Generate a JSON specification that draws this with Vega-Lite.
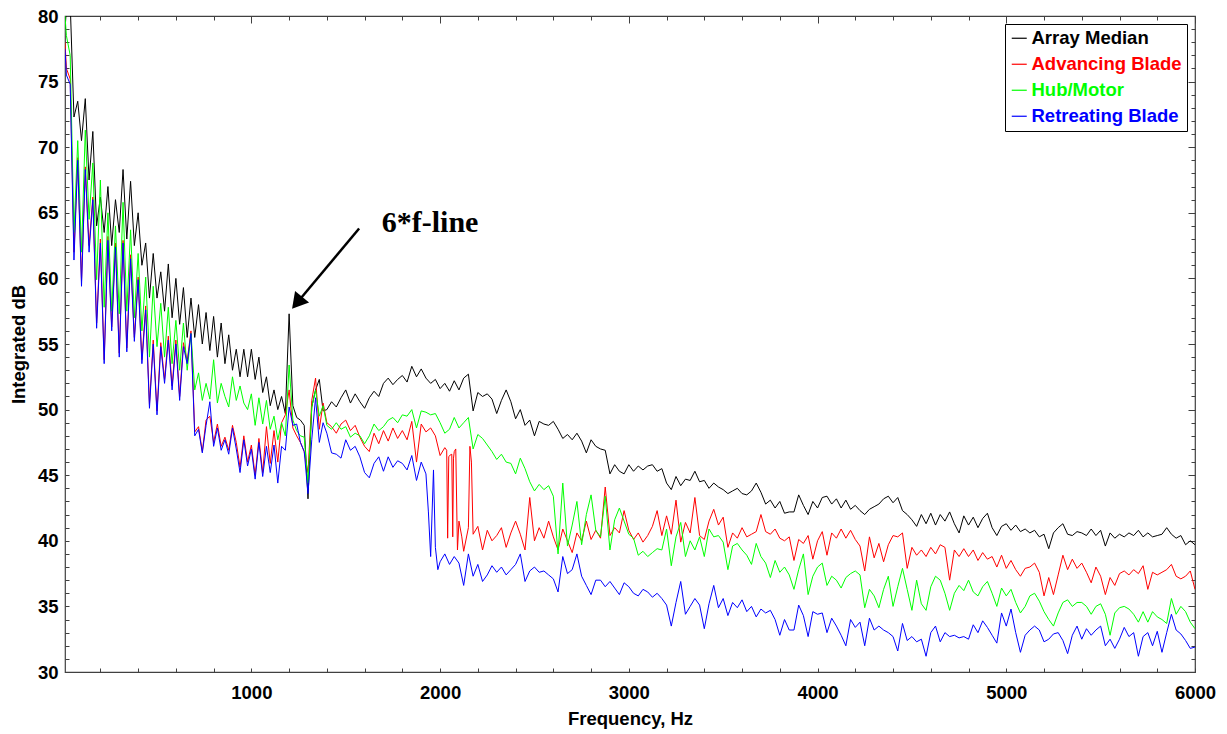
{
  "$schema": "https://vega.github.io/schema/vega-lite/v6.json",
  "width": 1130,
  "height": 656,
  "autosize": {"type": "none"},
  "padding": {"left": 65, "top": 16, "right": 32, "bottom": 62},
  "background": "#ffffff",
  "config": {
    "font": "Liberation Sans",
    "view": {"stroke": "#404040", "strokeWidth": 1.2},
    "axis": {
      "labelFont": "Liberation Sans", "labelFontWeight": "bold", "labelFontSize": 18.5, "labelColor": "#000000",
      "titleFont": "Liberation Sans", "titleFontWeight": "bold", "titleFontSize": 18.5, "titleColor": "#000000",
      "domain": false, "tickColor": "#404040", "tickWidth": 1,
      "gridColor": "#d6d6d6", "gridWidth": 1.5
    }
  },
  "data": {"values": [
    {"f":12.5,"m":79.0,"a":78.0,"h":80.0,"r":77.5},
    {"f":20,"m":80.5,"a":76.0,"h":78.5,"r":75.5},
    {"f":40,"m":81.0,"a":75.2,"h":77.0,"r":74.8},
    {"f":60,"m":72.3,"a":62.0,"h":63.5,"r":61.4},
    {"f":80,"m":73.5,"a":69.2,"h":70.5,"r":69.0},
    {"f":100,"m":70.5,"a":59.8,"h":62.0,"r":59.4},
    {"f":120,"m":73.7,"a":68.5,"h":71.3,"r":68.3},
    {"f":140,"m":67.5,"a":62.5,"h":64.5,"r":62.0},
    {"f":160,"m":71.2,"a":66.2,"h":68.8,"r":66.0},
    {"f":180,"m":64.0,"a":56.6,"h":59.9,"r":56.2},
    {"f":200,"m":66.2,"a":63.0,"h":67.5,"r":62.7},
    {"f":220,"m":63.5,"a":53.8,"h":57.8,"r":53.5},
    {"f":240,"m":67.0,"a":63.2,"h":65.0,"r":62.9},
    {"f":260,"m":62.5,"a":56.3,"h":57.5,"r":56.0},
    {"f":280,"m":66.0,"a":62.7,"h":64.0,"r":62.4},
    {"f":300,"m":63.5,"a":54.3,"h":57.3,"r":54.0},
    {"f":320,"m":68.3,"a":62.9,"h":65.8,"r":62.7},
    {"f":340,"m":63.0,"a":54.7,"h":57.5,"r":54.4},
    {"f":360,"m":67.4,"a":61.8,"h":63.7,"r":61.5},
    {"f":380,"m":62.5,"a":55.5,"h":57.0,"r":55.2},
    {"f":400,"m":65.0,"a":60.1,"h":61.9,"r":59.9},
    {"f":420,"m":61.0,"a":53.8,"h":56.0,"r":53.5},
    {"f":440,"m":62.7,"a":57.9,"h":60.1,"r":57.6},
    {"f":460,"m":58.5,"a":50.4,"h":54.0,"r":50.1},
    {"f":480,"m":61.9,"a":55.3,"h":59.4,"r":55.0},
    {"f":500,"m":58.5,"a":49.9,"h":54.8,"r":49.6},
    {"f":520,"m":60.5,"a":55.1,"h":58.1,"r":54.8},
    {"f":540,"m":57.5,"a":52.3,"h":54.0,"r":52.0},
    {"f":560,"m":61.1,"a":55.6,"h":57.8,"r":55.3},
    {"f":580,"m":57.0,"a":51.8,"h":53.5,"r":51.5},
    {"f":600,"m":60.0,"a":55.3,"h":56.8,"r":55.0},
    {"f":620,"m":56.5,"a":51.0,"h":53.0,"r":50.7},
    {"f":640,"m":59.3,"a":55.1,"h":56.6,"r":54.8},
    {"f":660,"m":55.5,"a":53.7,"h":53.0,"r":53.5},
    {"f":680,"m":58.5,"a":56.0,"h":55.8,"r":55.8},
    {"f":700,"m":55.5,"a":48.3,"h":51.5,"r":48.0},
    {"f":720,"m":58.0,"a":48.7,"h":52.8,"r":48.5},
    {"f":740,"m":55.0,"a":46.8,"h":50.7,"r":46.7},
    {"f":760,"m":57.4,"a":49.2,"h":52.0,"r":48.8},
    {"f":780,"m":54.5,"a":49.5,"h":50.8,"r":50.6},
    {"f":800,"m":57.1,"a":47.5,"h":53.8,"r":47.2},
    {"f":820,"m":54.0,"a":48.9,"h":50.5,"r":48.6},
    {"f":840,"m":56.6,"a":47.2,"h":52.0,"r":46.9},
    {"f":860,"m":53.5,"a":47.9,"h":51.0,"r":47.7},
    {"f":880,"m":55.7,"a":46.9,"h":50.2,"r":46.6},
    {"f":900,"m":53.0,"a":48.8,"h":52.5,"r":48.6},
    {"f":920,"m":54.6,"a":47.5,"h":50.7,"r":47.0},
    {"f":940,"m":52.5,"a":45.6,"h":51.8,"r":45.2},
    {"f":960,"m":54.6,"a":48.0,"h":50.5,"r":47.7},
    {"f":980,"m":52.5,"a":46.0,"h":50.0,"r":45.7},
    {"f":1000,"m":54.6,"a":47.3,"h":51.2,"r":47.0},
    {"f":1020,"m":52.3,"a":45.0,"h":48.8,"r":44.7},
    {"f":1040,"m":54.0,"a":47.8,"h":50.9,"r":47.5},
    {"f":1060,"m":51.3,"a":45.2,"h":48.9,"r":44.9},
    {"f":1080,"m":52.5,"a":48.7,"h":50.7,"r":47.2},
    {"f":1100,"m":50.3,"a":45.9,"h":48.5,"r":45.2},
    {"f":1120,"m":51.5,"a":48.4,"h":49.5,"r":47.3},
    {"f":1140,"m":50.0,"a":46.0,"h":47.7,"r":44.4},
    {"f":1160,"m":51.0,"a":49.0,"h":49.0,"r":47.2},
    {"f":1180,"m":49.7,"a":49.6,"h":48.0,"r":46.9},
    {"f":1200,"m":57.3,"a":51.5,"h":53.4,"r":50.2},
    {"f":1220,"m":50.3,"a":48.6,"h":49.2,"r":48.8},
    {"f":1240,"m":49.4,"a":48.0,"h":48.4,"r":48.9},
    {"f":1260,"m":49.2,"a":47.5,"h":48.0,"r":47.5},
    {"f":1280,"m":48.8,"a":46.8,"h":47.9,"r":46.8},
    {"f":1300,"m":43.2,"a":45.2,"h":44.4,"r":43.6},
    {"f":1320,"m":50.2,"a":50.7,"h":50.2,"r":47.7},
    {"f":1340,"m":51.5,"a":52.4,"h":51.5,"r":50.9},
    {"f":1360,"m":52.3,"a":48.5,"h":49.5,"r":47.5},
    {"f":1380,"m":49.9,"a":50.5,"h":50.3,"r":49.0},
    {"f":1400,"m":50.0,"a":49.0,"h":48.8,"r":48.2},
    {"f":1425,"m":50.6,"a":48.7,"h":48.5,"r":46.7},
    {"f":1450,"m":50.2,"a":48.2,"h":49.0,"r":46.6},
    {"f":1475,"m":50.9,"a":48.9,"h":48.5,"r":46.3},
    {"f":1500,"m":51.5,"a":49.2,"h":48.7,"r":47.7},
    {"f":1525,"m":50.5,"a":48.4,"h":47.9,"r":46.9},
    {"f":1550,"m":51.2,"a":48.8,"h":48.2,"r":47.2},
    {"f":1575,"m":50.6,"a":47.9,"h":48.0,"r":46.4},
    {"f":1600,"m":50.1,"a":47.2,"h":47.4,"r":45.2},
    {"f":1625,"m":50.9,"a":46.8,"h":48.0,"r":44.8},
    {"f":1650,"m":51.4,"a":48.2,"h":48.9,"r":45.9},
    {"f":1675,"m":51.0,"a":47.4,"h":48.4,"r":46.4},
    {"f":1700,"m":52.0,"a":48.4,"h":48.7,"r":45.3},
    {"f":1725,"m":52.4,"a":47.6,"h":49.2,"r":46.4},
    {"f":1750,"m":51.9,"a":48.6,"h":49.4,"r":45.6},
    {"f":1775,"m":52.3,"a":47.8,"h":49.0,"r":46.1},
    {"f":1800,"m":52.6,"a":48.4,"h":49.6,"r":45.9},
    {"f":1825,"m":52.1,"a":47.7,"h":49.5,"r":45.4},
    {"f":1850,"m":53.3,"a":49.1,"h":50.0,"r":46.5},
    {"f":1875,"m":52.5,"a":46.0,"h":48.6,"r":44.6},
    {"f":1900,"m":53.1,"a":48.9,"h":49.9,"r":46.0},
    {"f":1925,"m":52.4,"a":48.3,"h":49.8,"r":45.1},
    {"f":1938,"r":42.2},
    {"f":1950,"m":52.0,"a":48.6,"h":49.6,"r":38.8},
    {"f":1965,"r":45.4},
    {"f":1975,"m":52.3,"a":48.0,"h":49.7,"r":39.5},
    {"f":1988,"r":37.8},
    {"f":2000,"m":51.6,"a":46.5,"h":49.0,"r":38.4},
    {"f":2025,"m":52.0,"a":47.1,"h":48.2,"r":39.0},
    {"f":2035,"a":46.9},
    {"f":2040,"a":40.2},
    {"f":2046,"a":46.4},
    {"f":2050,"m":51.4,"a":46.5,"h":48.5,"r":38.2},
    {"f":2062,"a":46.6},
    {"f":2067,"a":40.3},
    {"f":2071,"a":46.3},
    {"f":2075,"m":52.2,"a":46.8,"h":49.4,"r":38.8},
    {"f":2083,"a":47.0},
    {"f":2092,"a":39.3},
    {"f":2100,"m":51.5,"a":41.5,"h":48.6,"r":38.3},
    {"f":2115,"a":40.3},
    {"f":2125,"m":52.4,"a":39.2,"h":49.0,"r":36.6},
    {"f":2150,"m":52.7,"a":41.0,"h":49.4,"r":39.0},
    {"f":2158,"a":47.2},
    {"f":2166,"a":46.0},
    {"f":2175,"m":49.9,"a":40.5,"h":47.0,"r":37.3},
    {"f":2200,"m":51.3,"a":41.1,"h":48.1,"r":38.2},
    {"f":2225,"m":51.0,"a":39.3,"h":47.8,"r":36.9},
    {"f":2250,"m":51.2,"a":40.8,"h":47.3,"r":37.4},
    {"f":2275,"m":50.8,"a":40.0,"h":46.8,"r":38.1},
    {"f":2300,"m":49.7,"a":40.4,"h":46.2,"r":37.6},
    {"f":2325,"m":50.7,"a":41.0,"h":46.6,"r":38.0},
    {"f":2350,"m":51.5,"a":39.5,"h":46.0,"r":37.4},
    {"f":2375,"m":50.6,"a":40.6,"h":45.9,"r":37.8},
    {"f":2400,"m":49.3,"a":41.5,"h":45.1,"r":38.2},
    {"f":2425,"m":50.0,"a":40.5,"h":46.3,"r":39.0},
    {"f":2450,"m":48.8,"a":39.3,"h":45.5,"r":36.9},
    {"f":2475,"m":49.2,"a":43.3,"h":44.5,"r":37.7},
    {"f":2500,"m":48.0,"a":40.0,"h":43.8,"r":38.0},
    {"f":2525,"m":49.1,"a":41.0,"h":44.3,"r":37.6},
    {"f":2550,"m":48.9,"a":40.2,"h":43.9,"r":37.7},
    {"f":2575,"m":48.8,"a":41.5,"h":44.2,"r":37.4},
    {"f":2600,"m":49.1,"a":40.3,"h":43.4,"r":37.1},
    {"f":2625,"m":48.5,"a":39.3,"h":39.0,"r":36.1},
    {"f":2650,"m":47.8,"a":40.9,"h":44.4,"r":38.8},
    {"f":2675,"m":48.1,"a":40.0,"h":39.6,"r":37.5},
    {"f":2700,"m":47.7,"a":39.1,"h":41.2,"r":37.8},
    {"f":2725,"m":48.2,"a":40.6,"h":43.0,"r":39.0},
    {"f":2750,"m":47.6,"a":40.0,"h":39.7,"r":37.3},
    {"f":2775,"m":46.7,"a":41.5,"h":42.0,"r":36.6},
    {"f":2800,"m":47.7,"a":40.1,"h":43.5,"r":35.9},
    {"f":2825,"m":47.2,"a":40.8,"h":40.8,"r":37.0},
    {"f":2850,"m":47.0,"a":40.2,"h":40.3,"r":37.0},
    {"f":2875,"m":46.9,"a":44.1,"h":43.4,"r":36.5},
    {"f":2900,"m":45.1,"a":40.4,"h":39.3,"r":36.9},
    {"f":2925,"m":45.8,"a":41.0,"h":41.6,"r":36.4},
    {"f":2950,"m":45.3,"a":40.6,"h":42.5,"r":35.9},
    {"f":2975,"m":45.1,"a":42.3,"h":41.5,"r":36.8},
    {"f":3000,"m":45.8,"a":40.8,"h":40.5,"r":36.5},
    {"f":3025,"m":45.3,"a":40.1,"h":40.2,"r":36.0},
    {"f":3050,"m":45.7,"a":40.6,"h":38.9,"r":35.8},
    {"f":3075,"m":45.4,"a":39.9,"h":39.2,"r":36.3},
    {"f":3100,"m":45.7,"a":40.4,"h":38.8,"r":36.1},
    {"f":3125,"m":45.8,"a":41.1,"h":39.1,"r":35.7},
    {"f":3150,"m":45.3,"a":42.3,"h":39.4,"r":36.0},
    {"f":3175,"m":45.5,"a":40.4,"h":39.3,"r":35.6},
    {"f":3200,"m":44.4,"a":41.9,"h":40.9,"r":35.1},
    {"f":3225,"m":43.9,"a":40.5,"h":38.1,"r":33.5},
    {"f":3250,"m":44.9,"a":43.1,"h":40.3,"r":35.3},
    {"f":3275,"m":44.2,"a":39.9,"h":41.4,"r":36.9},
    {"f":3300,"m":44.7,"a":41.4,"h":38.8,"r":34.4},
    {"f":3325,"m":44.6,"a":40.6,"h":40.0,"r":35.0},
    {"f":3350,"m":45.3,"a":43.3,"h":39.3,"r":35.6},
    {"f":3375,"m":44.5,"a":40.4,"h":40.3,"r":35.1},
    {"f":3400,"m":44.6,"a":40.1,"h":38.8,"r":33.3},
    {"f":3425,"m":44.0,"a":41.5,"h":40.9,"r":35.2},
    {"f":3450,"m":44.4,"a":42.4,"h":40.3,"r":36.6},
    {"f":3475,"m":44.1,"a":41.2,"h":40.4,"r":34.9},
    {"f":3500,"m":43.9,"a":41.8,"h":39.9,"r":35.6},
    {"f":3525,"m":43.6,"a":39.5,"h":37.8,"r":34.3},
    {"f":3550,"m":43.8,"a":40.6,"h":39.6,"r":35.3},
    {"f":3575,"m":44.0,"a":40.2,"h":39.8,"r":34.9},
    {"f":3600,"m":43.6,"a":41.0,"h":39.3,"r":35.5},
    {"f":3625,"m":43.5,"a":40.3,"h":38.9,"r":34.6},
    {"f":3650,"m":43.8,"a":40.5,"h":38.2,"r":35.0},
    {"f":3675,"m":44.4,"a":40.7,"h":39.8,"r":34.2},
    {"f":3700,"m":43.7,"a":42.0,"h":38.8,"r":34.8},
    {"f":3725,"m":42.8,"a":40.7,"h":38.3,"r":34.5},
    {"f":3750,"m":43.1,"a":40.5,"h":37.2,"r":34.7},
    {"f":3775,"m":42.5,"a":40.9,"h":38.5,"r":34.0},
    {"f":3800,"m":43.0,"a":40.2,"h":37.6,"r":32.8},
    {"f":3825,"m":42.1,"a":40.0,"h":38.0,"r":34.0},
    {"f":3850,"m":42.2,"a":40.3,"h":37.4,"r":33.2},
    {"f":3875,"m":42.2,"a":38.5,"h":36.3,"r":33.2},
    {"f":3900,"m":43.5,"a":40.1,"h":37.8,"r":35.1},
    {"f":3925,"m":42.7,"a":39.8,"h":39.0,"r":34.3},
    {"f":3950,"m":42.0,"a":40.4,"h":35.9,"r":32.7},
    {"f":3975,"m":43.0,"a":38.6,"h":37.3,"r":34.6},
    {"f":4000,"m":42.5,"a":40.0,"h":38.0,"r":34.4},
    {"f":4025,"m":43.3,"a":40.7,"h":38.3,"r":34.5},
    {"f":4050,"m":43.4,"a":38.9,"h":36.6,"r":33.0},
    {"f":4075,"m":42.8,"a":40.6,"h":37.3,"r":34.1},
    {"f":4100,"m":43.2,"a":40.2,"h":37.0,"r":33.5},
    {"f":4125,"m":42.5,"a":40.9,"h":36.4,"r":32.8},
    {"f":4150,"m":43.1,"a":40.2,"h":37.2,"r":32.0},
    {"f":4175,"m":42.4,"a":40.8,"h":37.5,"r":34.0},
    {"f":4200,"m":42.7,"a":40.1,"h":37.7,"r":33.4},
    {"f":4225,"m":42.3,"a":39.6,"h":37.4,"r":33.8},
    {"f":4250,"m":42.0,"a":37.7,"h":34.9,"r":32.0},
    {"f":4275,"m":42.4,"a":40.3,"h":36.3,"r":34.1},
    {"f":4300,"m":42.6,"a":38.7,"h":35.8,"r":33.2},
    {"f":4325,"m":42.8,"a":39.8,"h":34.9,"r":33.5},
    {"f":4350,"m":43.2,"a":38.4,"h":36.3,"r":33.2},
    {"f":4375,"m":43.4,"a":39.7,"h":37.3,"r":33.0},
    {"f":4400,"m":42.9,"a":40.4,"h":35.0,"r":32.7},
    {"f":4425,"m":43.3,"a":40.3,"h":36.5,"r":31.6},
    {"f":4450,"m":42.3,"a":40.6,"h":37.9,"r":33.7},
    {"f":4475,"m":42.0,"a":37.9,"h":36.3,"r":32.4},
    {"f":4500,"m":41.6,"a":39.5,"h":34.7,"r":32.7},
    {"f":4525,"m":41.1,"a":38.9,"h":37.0,"r":32.3},
    {"f":4550,"m":42.0,"a":39.3,"h":35.2,"r":32.5},
    {"f":4575,"m":41.3,"a":38.8,"h":34.7,"r":31.2},
    {"f":4600,"m":42.1,"a":39.5,"h":36.5,"r":33.0},
    {"f":4625,"m":41.2,"a":39.0,"h":37.3,"r":33.5},
    {"f":4650,"m":42.0,"a":39.7,"h":37.0,"r":32.3},
    {"f":4675,"m":41.5,"a":39.5,"h":36.0,"r":33.0},
    {"f":4700,"m":42.2,"a":37.0,"h":34.7,"r":32.7},
    {"f":4725,"m":41.3,"a":39.3,"h":36.0,"r":32.8},
    {"f":4750,"m":40.6,"a":38.8,"h":36.6,"r":32.6},
    {"f":4775,"m":41.9,"a":39.4,"h":36.2,"r":32.7},
    {"f":4800,"m":41.2,"a":38.8,"h":37.0,"r":32.5},
    {"f":4825,"m":41.8,"a":39.3,"h":36.1,"r":33.6},
    {"f":4850,"m":41.0,"a":38.5,"h":35.8,"r":33.0},
    {"f":4875,"m":41.7,"a":39.1,"h":36.5,"r":33.9},
    {"f":4900,"m":42.1,"a":38.6,"h":36.9,"r":33.4},
    {"f":4925,"m":41.0,"a":38.8,"h":36.0,"r":32.8},
    {"f":4950,"m":40.4,"a":38.0,"h":35.0,"r":32.2},
    {"f":4975,"m":41.1,"a":38.9,"h":36.4,"r":34.5},
    {"f":5000,"m":41.3,"a":37.9,"h":35.8,"r":33.5},
    {"f":5025,"m":40.8,"a":38.5,"h":36.3,"r":34.8},
    {"f":5050,"m":41.2,"a":37.8,"h":35.3,"r":33.0},
    {"f":5075,"m":40.7,"a":37.3,"h":34.5,"r":31.5},
    {"f":5100,"m":40.9,"a":37.9,"h":35.0,"r":32.8},
    {"f":5125,"m":40.6,"a":38.0,"h":35.8,"r":33.2},
    {"f":5150,"m":40.8,"a":38.3,"h":36.0,"r":33.5},
    {"f":5175,"m":40.3,"a":37.6,"h":35.4,"r":33.2},
    {"f":5200,"m":40.5,"a":35.8,"h":34.6,"r":32.3},
    {"f":5225,"m":39.4,"a":37.2,"h":34.0,"r":32.5},
    {"f":5250,"m":40.6,"a":35.9,"h":33.5,"r":32.9},
    {"f":5275,"m":41.0,"a":37.4,"h":34.5,"r":33.0},
    {"f":5300,"m":41.3,"a":38.9,"h":35.3,"r":32.4},
    {"f":5325,"m":40.5,"a":37.8,"h":35.5,"r":31.4},
    {"f":5350,"m":40.4,"a":38.6,"h":35.0,"r":32.8},
    {"f":5375,"m":40.7,"a":37.9,"h":35.3,"r":33.5},
    {"f":5400,"m":40.6,"a":38.3,"h":35.3,"r":32.5},
    {"f":5425,"m":40.4,"a":37.6,"h":35.0,"r":33.3},
    {"f":5450,"m":40.9,"a":36.8,"h":34.4,"r":32.8},
    {"f":5475,"m":40.4,"a":38.0,"h":35.0,"r":33.2},
    {"f":5500,"m":40.8,"a":37.3,"h":35.2,"r":33.5},
    {"f":5525,"m":39.6,"a":35.9,"h":34.4,"r":32.0},
    {"f":5550,"m":40.6,"a":37.2,"h":32.8,"r":32.5},
    {"f":5575,"m":40.2,"a":36.6,"h":34.5,"r":31.8},
    {"f":5600,"m":40.5,"a":37.5,"h":34.9,"r":32.5},
    {"f":5625,"m":40.3,"a":37.7,"h":35.0,"r":33.4},
    {"f":5650,"m":40.6,"a":37.4,"h":34.8,"r":32.7},
    {"f":5675,"m":40.4,"a":37.8,"h":34.4,"r":33.0},
    {"f":5700,"m":40.8,"a":37.5,"h":33.8,"r":31.2},
    {"f":5725,"m":40.3,"a":38.1,"h":34.6,"r":32.7},
    {"f":5750,"m":40.6,"a":36.3,"h":33.8,"r":33.0},
    {"f":5775,"m":40.3,"a":37.6,"h":34.6,"r":32.0},
    {"f":5800,"m":40.4,"a":37.4,"h":34.2,"r":33.1},
    {"f":5825,"m":40.5,"a":37.6,"h":34.0,"r":31.5},
    {"f":5850,"m":41.0,"a":37.8,"h":33.7,"r":33.0},
    {"f":5875,"m":40.5,"a":38.2,"h":35.6,"r":34.4},
    {"f":5900,"m":40.2,"a":37.3,"h":34.4,"r":33.2},
    {"f":5925,"m":40.4,"a":37.1,"h":35.0,"r":32.9},
    {"f":5950,"m":39.7,"a":37.3,"h":34.6,"r":32.4},
    {"f":5975,"m":40.0,"a":37.7,"h":33.8,"r":31.8},
    {"f":6000,"m":39.7,"a":36.3,"h":33.3,"r":31.9}
  ]},
  "resolve": {"axis": {"x": "independent", "y": "independent"}},
  "layer": [
    {
      "data": {"values": [{}]},
      "mark": {"type": "rect", "color": "#ffffff"},
      "encoding": {
        "x": {"datum": 1571, "type": "quantitative",
          "scale": {"domain": [12.5, 6000], "nice": false, "zero": false},
          "axis": {"orient": "top", "title": null, "labels": false, "grid": false,
            "values": [200,400,600,800,1000,1200,1400,1600,1800,2000,2200,2400,2600,2800,3000,3200,3400,3600,3800,4000,4200,4400,4600,4800,5000,5200,5400,5600,5800,6000],
            "tickSize": {"condition": {"test": "datum.value % 1000 === 0", "value": -7}, "value": -4}}},
        "x2": {"datum": 2440},
        "y": {"datum": 66.5, "type": "quantitative",
          "scale": {"domain": [30, 80], "nice": false, "zero": false},
          "axis": {"orient": "right", "title": null, "labels": false, "grid": false,
            "values": [30,31,32,33,34,35,36,37,38,39,40,41,42,43,44,45,46,47,48,49,50,51,52,53,54,55,56,57,58,59,60,61,62,63,64,65,66,67,68,69,70,71,72,73,74,75,76,77,78,79,80],
            "tickSize": {"condition": {"test": "datum.value % 5 === 0", "value": -7}, "value": -4}}},
        "y2": {"datum": 61.5}
      }
    },
    {
      "transform": [{"filter": {"field": "m", "valid": true}}],
      "mark": {"type": "line", "strokeWidth": 1, "clip": true},
      "encoding": {
        "x": {"field": "f", "type": "quantitative",
          "scale": {"domain": [12.5, 6000], "nice": false, "zero": false},
          "axis": {"title": "Frequency, Hz", "format": "d",
            "values": [200,400,600,800,1000,1200,1400,1600,1800,2000,2200,2400,2600,2800,3000,3200,3400,3600,3800,4000,4200,4400,4600,4800,5000,5200,5400,5600,5800,6000],
            "labelExpr": "datum.value % 1000 === 0 ? datum.label : ''",
            "gridOpacity": {"condition": {"test": "datum.value % 1000 === 0", "value": 1}, "value": 0},
            "tickSize": -4, "labelPadding": 15, "labelOverlap": false, "labelFlush": false, "titlePadding": 8}},
        "y": {"field": "m", "type": "quantitative",
          "scale": {"domain": [30, 80], "nice": false, "zero": false},
          "axis": {"title": "Integrated dB",
            "values": [30,31,32,33,34,35,36,37,38,39,40,41,42,43,44,45,46,47,48,49,50,51,52,53,54,55,56,57,58,59,60,61,62,63,64,65,66,67,68,69,70,71,72,73,74,75,76,77,78,79,80],
            "labelExpr": "datum.value % 5 === 0 ? datum.label : ''",
            "gridOpacity": {"condition": {"test": "datum.value % 5 === 0", "value": 1}, "value": 0},
            "tickSize": -4, "labelPadding": 11, "labelOverlap": false, "labelFlush": false, "titlePadding": 9}},
        "color": {"datum": "Array Median",
          "scale": {"domain": ["Array Median", "Advancing Blade", "Hub/Motor", "Retreating Blade"],
                    "range": ["#000000", "#ff0000", "#00ff00", "#0000ff"]},
          "legend": {"title": null, "orient": "top-right", "offset": 8, "padding": 5,
            "strokeColor": "#000000", "fillColor": "#ffffff", "cornerRadius": 0,
            "symbolType": "stroke", "symbolSize": 225, "symbolStrokeWidth": 1.2,
            "labelFont": "Liberation Sans", "labelFontWeight": "bold", "labelFontSize": 18.5,
            "labelOffset": 3, "rowPadding": 7, "labelLimit": 300,
            "labelColor": {"expr": "datum.label === 'Array Median' ? '#000000' : datum.label === 'Advancing Blade' ? '#ff0000' : datum.label === 'Hub/Motor' ? '#00ff00' : '#0000ff'"}}}
      }
    },
    {
      "transform": [{"filter": {"field": "a", "valid": true}}],
      "mark": {"type": "line", "strokeWidth": 1, "clip": true},
      "encoding": {
        "x": {"field": "f", "type": "quantitative", "axis": null},
        "y": {"field": "a", "type": "quantitative", "axis": null},
        "color": {"datum": "Advancing Blade"}
      }
    },
    {
      "transform": [{"filter": {"field": "h", "valid": true}}],
      "mark": {"type": "line", "strokeWidth": 1, "clip": true},
      "encoding": {
        "x": {"field": "f", "type": "quantitative", "axis": null},
        "y": {"field": "h", "type": "quantitative", "axis": null},
        "color": {"datum": "Hub/Motor"}
      }
    },
    {
      "transform": [{"filter": {"field": "r", "valid": true}}],
      "mark": {"type": "line", "strokeWidth": 1, "clip": true},
      "encoding": {
        "x": {"field": "f", "type": "quantitative", "axis": null},
        "y": {"field": "r", "type": "quantitative", "axis": null},
        "color": {"datum": "Retreating Blade"}
      }
    },
    {
      "data": {"values": [{}]},
      "mark": {"type": "rule", "strokeWidth": 2.5, "color": "#000000"},
      "encoding": {
        "x": {"datum": 1571, "type": "quantitative", "axis": null},
        "y": {"datum": 63.8, "type": "quantitative", "axis": null},
        "x2": {"datum": 1251},
        "y2": {"datum": 58.3}
      }
    },
    {
      "data": {"values": [{}]},
      "mark": {"type": "point", "shape": "triangle", "filled": true, "size": 330, "angle": 219.5, "color": "#000000", "opacity": 1},
      "encoding": {
        "x": {"datum": 1251, "type": "quantitative", "axis": null},
        "y": {"datum": 58.3, "type": "quantitative", "axis": null}
      }
    },
    {
      "data": {"values": [{}]},
      "mark": {"type": "text", "font": "Liberation Serif", "fontWeight": "bold", "fontSize": 30, "align": "center", "baseline": "alphabetic", "color": "#000000"},
      "encoding": {
        "x": {"datum": 1947, "type": "quantitative", "axis": null},
        "y": {"datum": 63.5, "type": "quantitative", "axis": null},
        "text": {"value": "6*f-line"}
      }
    }
  ]
}
